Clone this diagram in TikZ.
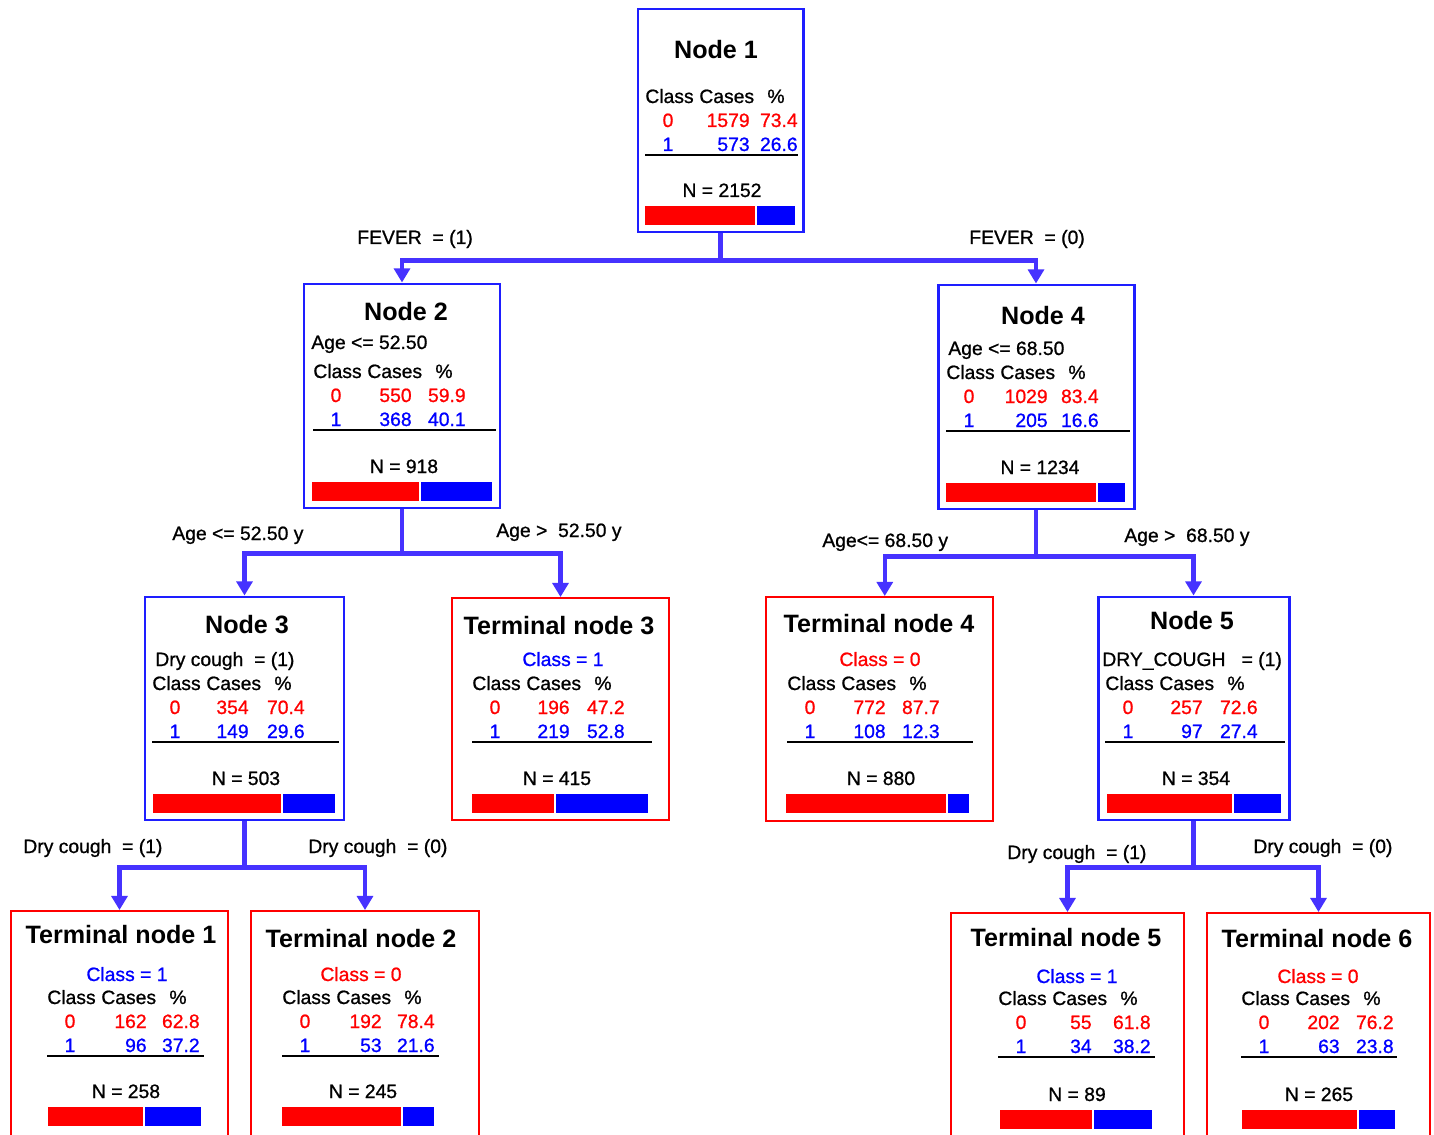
\documentclass[tikz,border=0pt]{standalone}
\usepackage{fontspec}
\setmainfont{Liberation Sans}
\newfontfamily\heavyfont[FakeBold=0.9]{Liberation Sans}
\usetikzlibrary{arrows.meta,fit,calc}
\definecolor{conncol}{RGB}{70,50,255}
\definecolor{boxblue}{RGB}{30,30,255}
\definecolor{tred}{RGB}{255,0,0}
\definecolor{tblue}{RGB}{0,0,255}
\tikzset{
  txt/.style={inner sep=0pt, font=\heavyfont\fontsize{11}{13}\selectfont},
  ttl/.style={inner sep=0pt, font=\bfseries\fontsize{14.3}{16}\selectfont, anchor=base},
  bluebox/.style={draw=boxblue, line width=1.7pt, inner sep=0pt},
  redbox/.style={draw=tred, line width=1.1pt, inner sep=0pt},
  conn/.style={draw=conncol, line width=2.3pt},
  arr/.style={-{Triangle[length=8pt,width=9pt]}},
}
% prefix, L, yh, c0, p0, c1, p1, casesR, lineR
\newcommand\statbl[9]{%
  \node[txt,anchor=base west] (#1-cl) at (#2,#3+7) {Class};
  \node[txt,anchor=base west] (#1-cs) at (#2+54,#3+7) {Cases};
  \node[txt,anchor=base] (#1-pc) at (#2+131,#3+7) {\%};
  \node[txt,anchor=base,text=tred] (#1-a0) at (#2+23,#3+31) {0};
  \node[txt,anchor=base east,text=tred] (#1-b0) at (#8,#3+31) {#4};
  \node[txt,anchor=base east,text=tred] (#1-c0) at (#2+153,#3+31) {#5};
  \node[txt,anchor=base,text=tblue] (#1-a1) at (#2+23,#3+55) {1};
  \node[txt,anchor=base east,text=tblue] (#1-b1) at (#8,#3+55) {#6};
  \node[txt,anchor=base east,text=tblue] (#1-c1) at (#2+153,#3+55) {#7};
  \draw[line width=1.1pt] (#2,#3+59) -- (#9,#3+59);
}
% prefix, cx, yN, N, x0, redEnd, blueEnd
\newcommand\nbar[7]{%
  \node[txt,anchor=base] (#1-n) at (#2,#3+7) {N = #4};
  \fill[tred] (#5,#3+16) rectangle (#6,#3+35);
  \fill[tblue] (#6+2,#3+16) rectangle (#7,#3+35);
}
\begin{document}
\begin{tikzpicture}[x=0.02cm,y=-0.02cm]
\useasboundingbox (0,0) rectangle (1434,1135);
\fill[white] (0,0) rectangle (1434,1135);
\clip (0,0) rectangle (1434,1135);

% boxes
\node[bluebox, fit={(638,9) (803,232)}] (n1) {};
\node[bluebox, fit={(304,284) (500,508)}] (n2) {};
\node[bluebox, fit={(938,285) (1134,509)}] (n4) {};
\node[bluebox, fit={(145,597) (344,820)}] (n3) {};
\node[redbox, fit={(452,598) (669,820)}] (tn3) {};
\node[redbox, fit={(766,597) (993,821)}] (tn4) {};
\node[bluebox, fit={(1098,597) (1289,820)}] (n5) {};
\node[redbox, fit={(11,911) (228,1150)}] (tn1) {};
\node[redbox, fit={(251,911) (479,1150)}] (tn2) {};
\node[redbox, fit={(951,913) (1184,1150)}] (tn5) {};
\node[redbox, fit={(1207,913) (1430,1150)}] (tn6) {};

% connectors
\coordinate (j1) at ($(n1.south)+(0,27)$);
\draw[conn] (n1.south) -- (j1);
\draw[conn,arr] (j1) -| (n2.north);
\draw[conn,arr] (j1) -| (n4.north);
\coordinate (j2) at ($(n2.south)+(0,44)$);
\draw[conn] (n2.south) -- (j2);
\draw[conn,arr] (j2) -| (n3.north);
\draw[conn,arr] (j2) -| (tn3.north);
\coordinate (j4) at ($(n4.south)+(0,46)$);
\draw[conn] (n4.south) -- (j4);
\draw[conn,arr] (j4) -| ([xshift=3pt]tn4.north);
\draw[conn,arr] (j4) -| (n5.north);
\coordinate (j3) at ($(n3.south)+(0,46)$);
\draw[conn] (n3.south) -- (j3);
\draw[conn,arr] (j3) -| (tn1.north);
\draw[conn,arr] (j3) -| (tn2.north);
\coordinate (j5) at ($(n5.south)+(0,46)$);
\draw[conn] (n5.south) -- (j5);
\draw[conn,arr] (j5) -| (tn5.north);
\draw[conn,arr] (j5) -| (tn6.north);

% edge labels
\node[txt,anchor=base west] (e1) at (357,237+7) {FEVER\ \ = (1)};
\node[txt,anchor=base west] (e2) at (969,237+7) {FEVER\ \ = (0)};
\node[txt,anchor=base west] (e3) at (172,533+7) {Age <= 52.50 y};
\node[txt,anchor=base west] (e4) at (496,530+7) {Age >\ \ 52.50 y};
\node[txt,anchor=base west] (e5) at (822,540+7) {Age<= 68.50 y};
\node[txt,anchor=base west] (e6) at (1124,535+7) {Age >\ \ 68.50 y};
\node[txt,anchor=base west] (e7) at (23,846+7) {Dry cough\ \ = (1)};
\node[txt,anchor=base west] (e8) at (308,846+7) {Dry cough\ \ = (0)};
\node[txt,anchor=base west] (e9) at (1007,852+7) {Dry cough\ \ = (1)};
\node[txt,anchor=base west] (e10) at (1253,846+7) {Dry cough\ \ = (0)};

% titles
\node[ttl] (n1-t) at (716,50+9) {Node 1};
\node[ttl] (n2-t) at (406,311+9) {Node 2};
\node[ttl] (n4-t) at (1043,316+9) {Node 4};
\node[ttl] (n3-t) at (247,624+9) {Node 3};
\node[ttl] (tn3-t) at (559,625+9) {Terminal node 3};
\node[ttl] (tn4-t) at (879,623+9) {Terminal node 4};
\node[ttl] (n5-t) at (1192,620+9) {Node 5};
\node[ttl] (tn1-t) at (121,934+9) {Terminal node 1};
\node[ttl] (tn2-t) at (361,938+9) {Terminal node 2};
\node[ttl] (tn5-t) at (1066,937+9) {Terminal node 5};
\node[ttl] (tn6-t) at (1317,938+9) {Terminal node 6};

% split rules and predicted classes
\node[txt,anchor=base west] (n2-r) at (311,342+7) {Age <= 52.50};
\node[txt,anchor=base west] (n4-r) at (948,348+7) {Age <= 68.50};
\node[txt,anchor=base west] (n3-r) at (155,659+7) {Dry cough\ \ = (1)};
\node[txt,anchor=base west] (n5-r) at (1102,659+7) {DRY\_COUGH\ \ \ = (1)};
\node[txt,anchor=base,text=tblue] (tn3-k) at (563,659+7) {Class = 1};
\node[txt,anchor=base,text=tred] (tn4-k) at (880,659+7) {Class = 0};
\node[txt,anchor=base,text=tblue] (tn1-k) at (127,974+7) {Class = 1};
\node[txt,anchor=base,text=tred] (tn2-k) at (361,974+7) {Class = 0};
\node[txt,anchor=base,text=tblue] (tn5-k) at (1077,976+7) {Class = 1};
\node[txt,anchor=base,text=tred] (tn6-k) at (1318,976+7) {Class = 0};

% tables
\statbl{n1}{645}{96}{1579}{73.4}{573}{26.6}{750}{798}
\statbl{n2}{313}{371}{550}{59.9}{368}{40.1}{412}{496}
\statbl{n4}{946}{372}{1029}{83.4}{205}{16.6}{1048}{1130}
\statbl{n3}{152}{683}{354}{70.4}{149}{29.6}{249}{339}
\statbl{tn3}{472}{683}{196}{47.2}{219}{52.8}{570}{652}
\statbl{tn4}{787}{683}{772}{87.7}{108}{12.3}{886}{973}
\statbl{n5}{1105}{683}{257}{72.6}{97}{27.4}{1203}{1285}
\statbl{tn1}{47}{997}{162}{62.8}{96}{37.2}{147}{204}
\statbl{tn2}{282}{997}{192}{78.4}{53}{21.6}{382}{439}
\statbl{tn5}{998}{998}{55}{61.8}{34}{38.2}{1092}{1155}
\statbl{tn6}{1241}{998}{202}{76.2}{63}{23.8}{1340}{1397}

% N and bars
\nbar{n1}{722}{190}{2152}{645}{755}{795}
\nbar{n2}{404}{466}{918}{312}{419}{492}
\nbar{n4}{1040}{467}{1234}{946}{1096}{1125}
\nbar{n3}{246}{778}{503}{153}{281}{335}
\nbar{tn3}{557}{778}{415}{472}{554}{648}
\nbar{tn4}{881}{778}{880}{786}{946}{969}
\nbar{n5}{1196}{778}{354}{1107}{1232}{1281}
\nbar{tn1}{126}{1091}{258}{48}{143}{201}
\nbar{tn2}{363}{1091}{245}{282}{401}{434}
\nbar{tn5}{1077}{1094}{89}{1000}{1092}{1152}
\nbar{tn6}{1319}{1094}{265}{1242}{1357}{1395}
\end{tikzpicture}
\end{document}
